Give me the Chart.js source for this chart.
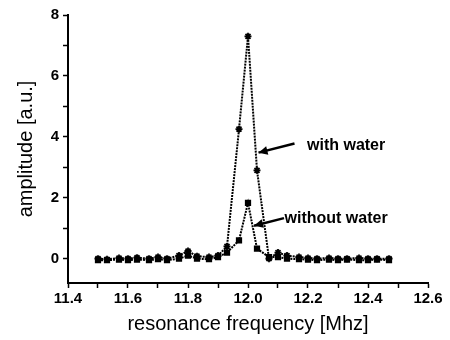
<!DOCTYPE html>
<html>
<head>
<meta charset="utf-8">
<script src="https://cdn.jsdelivr.net/npm/chart.js@4.4.0/dist/chart.umd.min.js"></script>
<style>
  html, body { margin:0; padding:0; background:#fff; }
  #wrap { width:450px; height:340px; }
</style>
</head>
<body>
<div id="wrap"><canvas id="chart"></canvas></div>
<script>
// resonance frequency [Mhz]
const freqs = [11.50, 11.53, 11.57, 11.60, 11.63, 11.67, 11.70, 11.73, 11.77, 11.80,
               11.83, 11.87, 11.90, 11.93, 11.97, 12.00, 12.03, 12.07, 12.10, 12.13,
               12.17, 12.20, 12.23, 12.27, 12.30, 12.33, 12.37, 12.40, 12.43, 12.47];
// amplitude [a.u.]
const withWater = [0.0, -0.02, 0.02, 0.0, 0.03, 0.0, 0.05, 0.0, 0.1, 0.25,
                   0.08, 0.05, 0.1, 0.4, 4.25, 7.3, 2.9, 0.0, 0.2, 0.1,
                   0.05, 0.02, 0.0, 0.02, 0.0, 0.0, 0.02, 0.0, 0.0, 0.0];
const withoutWater = [-0.05, -0.05, -0.03, -0.05, -0.03, -0.05, -0.02, -0.05, 0.0, 0.1,
                      0.0, -0.02, 0.05, 0.2, 0.6, 1.83, 0.33, 0.05, 0.05, 0.0,
                      -0.02, -0.03, -0.05, -0.03, -0.05, -0.03, -0.05, -0.05, -0.03, -0.05];

// annotation labels anchored in data coordinates
const notes = [
  { text:'with water', x:12.19, y:3.7, tail:[12.155, 3.78], head:[12.035, 3.48] },
  { text:'without water', x:12.115, y:1.33, tail:[12.12, 1.33], head:[12.02, 1.08] }
];

const toPts = ys => freqs.map((f, i) => ({ x: f, y: ys[i] }));

const notePlugin = {
  id: 'notes',
  afterDatasetsDraw(chart) {
    const { ctx, scales: { x, y } } = chart;
    ctx.save();
    ctx.fillStyle = '#000';
    ctx.strokeStyle = '#000';
    ctx.font = 'bold 16px "Liberation Sans", Arial, sans-serif';
    ctx.textBaseline = 'middle';
    notes.forEach(n => {
      ctx.fillText(n.text, x.getPixelForValue(n.x) + 2, y.getPixelForValue(n.y));
      const tx = x.getPixelForValue(n.tail[0]), ty = y.getPixelForValue(n.tail[1]);
      const hx = x.getPixelForValue(n.head[0]), hy = y.getPixelForValue(n.head[1]);
      ctx.lineWidth = 2.5;
      ctx.beginPath(); ctx.moveTo(tx, ty); ctx.lineTo(hx, hy); ctx.stroke();
      const a = Math.atan2(hy - ty, hx - tx);
      ctx.beginPath();
      ctx.moveTo(hx, hy);
      ctx.lineTo(hx - 10 * Math.cos(a - 0.45), hy - 10 * Math.sin(a - 0.45));
      ctx.lineTo(hx - 10 * Math.cos(a + 0.45), hy - 10 * Math.sin(a + 0.45));
      ctx.closePath(); ctx.fill();
    });
    ctx.restore();
  }
};

const tickFont = { family: '"Liberation Sans", Arial, sans-serif', size: 15, weight: 'bold' };
const titleFont = { family: '"Liberation Sans", Arial, sans-serif', size: 20 };

new Chart(document.getElementById('chart'), {
  type: 'line',
  data: {
    datasets: [
      { label: 'with water', data: toPts(withWater), borderColor: '#000', borderWidth: 2,
        borderDash: [2, 1], pointStyle: 'star', pointRadius: 3.5, pointBorderColor: '#000',
        pointBorderWidth: 1.8, pointBackgroundColor: '#fff', tension: 0 },
      { label: 'without water', data: toPts(withoutWater), borderColor: '#000', borderWidth: 2,
        borderDash: [2, 1], pointStyle: 'rect', pointRadius: 3, pointBorderColor: '#000',
        pointBackgroundColor: '#000', tension: 0 }
    ]
  },
  options: {
    responsive: true,
    maintainAspectRatio: false,
    animation: false,
    layout: { padding: { top: 15, right: 22, left: 10, bottom: 0 } },
    plugins: { legend: { display: false }, tooltip: { enabled: false } },
    scales: {
      x: {
        type: 'linear', min: 11.4, max: 12.6,
        afterFit: s => { s.height = 57; },
        border: { color: '#000', width: 2 },
        grid: { drawOnChartArea: false, drawTicks: true, tickLength: 5, tickColor: '#000', tickWidth: 1.5 },
        ticks: {
          stepSize: 0.1, color: '#000', font: tickFont, padding: 2, maxRotation: 0, autoSkip: false,
          callback: v => Math.abs(v * 5 - Math.round(v * 5)) < 1e-6 ? v.toFixed(1) : ''
        },
        title: { display: true, text: 'resonance frequency [Mhz]', color: '#000', font: titleFont, padding: { top: 10 } }
      },
      y: {
        min: -0.8, max: 8,
        afterFit: s => { s.width = 58; },
        border: { color: '#000', width: 2 },
        grid: { drawOnChartArea: false, drawTicks: true, tickLength: 5, tickColor: '#000', tickWidth: 1.5 },
        ticks: {
          stepSize: 1, includeBounds: false, color: '#000', font: tickFont, padding: 4,
          callback: v => (Math.round(v) % 2 === 0 ? String(Math.round(v)) : '')
        },
        title: { display: true, text: 'amplitude [a.u.]', color: '#000', font: titleFont, padding: { bottom: 6 } }
      }
    }
  },
  plugins: [notePlugin]
});
</script>
</body>
</html>
